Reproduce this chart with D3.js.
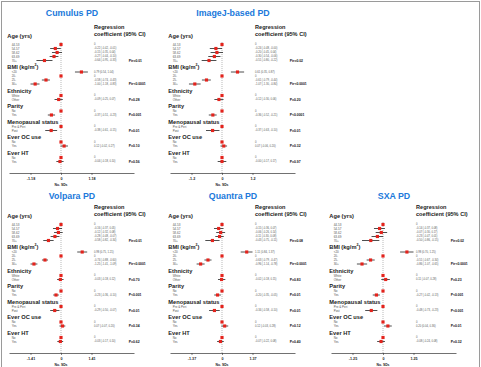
<!DOCTYPE html>
<html>
<head>
<meta charset="utf-8">
<script src="https://cdn.jsdelivr.net/npm/d3@7"></script>
<style>
  body { margin: 0; background: #fff; }
  text { font-family: "Liberation Sans", Arial, sans-serif; }
</style>
</head>
<body>
<script>
// groups and their categories (first category is the reference)
const groupNames = ["Age (yrs)", "BMI (kg/m2)", "Ethnicity", "Parity", "Menopausal status", "Ever OC use", "Ever HT"];
const categories = [
    ["44-53", "54-57", "58-62", "63-69", "70+"],
    ["<20", "20-", "25-", "30+"],
    ["White", "Other"],
    ["No", "Yes"],
    ["Pre & Peri", "Post"],
    ["No", "Yes"],
    ["No", "Yes"]
];

const panelNames = ["Cumulus PD", "ImageJ-based PD", "Volpara PD", "Quantra PD", "SXA PD"];
const tickLabels = ["1.18", "1.2", "1.41", "1.37", "1.25"];

// [estimate, lower, upper] per category, null CI = reference
const cumulusCI = [
    [0, null, null], [-0.22, -0.42, -0.01], [-0.15, -0.35, 0.04], [-0.27, -0.44, -0.10], [-0.64, -0.95, -0.33],
    [0.79, 0.54, 1.04], [0, null, null], [-0.58, -0.74, -0.43], [-1.00, -1.18, -0.83],
    [0, null, null], [-0.09, -0.25, 0.07],
    [0, null, null], [-0.37, -0.51, -0.23],
    [0, null, null], [-0.38, -0.61, -0.15],
    [0, null, null], [0.12, -0.02, 0.27],
    [0, null, null], [-0.04, -0.18, 0.10]
];
const imagejCI = [
    [0, null, null], [-0.24, -0.48, -0.00], [-0.20, -0.45, 0.04], [-0.30, -0.54, -0.06], [-0.51, -0.80, -0.22],
    [0.61, 0.35, 0.87], [0, null, null], [-0.61, -0.79, -0.44], [-1.07, -1.30, -0.84],
    [0, null, null], [-0.12, -0.30, 0.06],
    [0, null, null], [-0.36, -0.52, -0.21],
    [0, null, null], [-0.37, -0.63, -0.10],
    [0, null, null], [0.07, -0.06, 0.20],
    [0, null, null], [-0.00, -0.17, 0.17]
];
const volparaCI = [
    [0, null, null], [-0.16, -0.37, 0.05], [-0.12, -0.32, 0.08], [-0.28, -0.48, -0.07], [-0.58, -0.82, -0.34],
    [0.98, 0.75, 1.21], [0, null, null], [-0.74, -0.88, -0.60], [-1.25, -1.41, -1.09],
    [0, null, null], [-0.03, -0.18, 0.12],
    [0, null, null], [-0.23, -0.36, -0.10],
    [0, null, null], [-0.29, -0.50, -0.07],
    [0, null, null], [0.07, -0.07, 0.20],
    [0, null, null], [-0.03, -0.17, 0.10]
];
const quantraCI = [
    [0, null, null], [-0.15, -0.36, 0.07], [-0.06, -0.26, 0.14], [-0.11, -0.30, 0.08], [-0.43, -0.75, -0.11],
    [1.11, 0.84, 1.37], [0, null, null], [-0.63, -0.79, -0.47], [-0.96, -1.14, -0.78],
    [0, null, null], [-0.02, -0.18, 0.15],
    [0, null, null], [-0.20, -0.35, -0.05],
    [0, null, null], [-0.34, -0.58, -0.10],
    [0, null, null], [0.12, -0.03, 0.28],
    [0, null, null], [-0.07, -0.22, 0.08]
];
const sxaCI = [
    [0, null, null], [-0.14, -0.37, 0.08], [-0.07, -0.30, 0.17], [-0.23, -0.47, 0.01], [-0.50, -0.86, -0.15],
    [0.98, 0.70, 1.25], [0, null, null], [-0.51, -0.67, -0.34], [-0.86, -1.07, -0.65],
    [0, null, null], [0.11, -0.07, 0.28],
    [0, null, null], [-0.27, -0.42, -0.13],
    [0, null, null], [-0.48, -0.73, -0.23],
    [0, null, null], [0.20, 0.04, 0.36],
    [0, null, null], [-0.08, -0.24, 0.08]
];

const cumulusP = ["Ptr=0.01", "Ptr<0.0001", "P=0.28", "P=0.001", "P=0.01", "P=0.10", "P=0.56"];
const imagejP = ["Ptr=0.02", "Ptr<0.0001", "P=0.20", "P<0.0001", "P=0.01", "P=0.32", "P=0.97"];
const volparaP = ["Ptr=0.01", "Ptr<0.0001", "P=0.70", "P<0.001", "P=0.01", "P=0.34", "P=0.62"];
const quantraP = ["Ptr=0.08", "Ptr<0.0001", "P=0.83", "P=0.01", "P=0.01", "P=0.12", "P=0.40"];
const sxaP = ["Ptr=0.02", "Ptr<0.0001", "P=0.23", "P<0.001", "P<0.001", "P=0.01", "P=0.32"];

const allCI = [cumulusCI, imagejCI, volparaCI, quantraCI, sxaCI];
const allP = [cumulusP, imagejP, volparaP, quantraP, sxaP];

// layout
const W = 481, H = 367;
const panelPos = [[0, 0], [161, 0], [0, 180], [161, 180], [322, 180]];
const zeroX = 61, tickPx = 30.5, axisLeft = 9, axisRight = 134, axisY = 173;
const red = "#e3231c", blue = "#2079db";

// flatten rows with a slot index (extra gap before each new group)
const groupGap = 1.875;
const rows = [];
categories.forEach((cats, g) => cats.forEach((c, j) => {
    rows.push({g, j, label: c, slot: rows.length + g * groupGap});
}));
const maxSlot = d3.max(rows, d => d.slot);
const y = d3.scaleLinear().domain([0, maxSlot]).range([44.5, 44.5 + 4 * maxSlot]);

const fmt = v => (v < 0 || Object.is(v, -0) ? "-" : "") + Math.abs(v).toFixed(2);

const svg = d3.select("body").append("svg")
    .attr("width", W).attr("height", H);

svg.append("rect").attr("width", W).attr("height", H).attr("fill", "#fff");
svg.append("rect")
    .attr("x", 1.5).attr("y", 1.5).attr("width", W - 3).attr("height", H + 5)
    .attr("fill", "none").attr("stroke", "#9a9a9a").attr("stroke-width", 1);

panelNames.forEach((name, p) => {
    const t = +tickLabels[p];
    const ci = allCI[p];
    const pv = allP[p];
    const g = svg.append("g").attr("transform", `translate(${panelPos[p][0]},${panelPos[p][1]})`);

    const x = d3.scaleLinear()
        .domain([-(zeroX - axisLeft) / tickPx * t, (axisRight - zeroX) / tickPx * t])
        .range([axisLeft, axisRight]);

    // title
    g.append("text")
        .attr("x", x(0) + 11).attr("y", p < 2 ? 13 : 15.5)
        .attr("text-anchor", "middle").attr("dominant-baseline", "central")
        .attr("font-size", 8.8).attr("font-weight", "bold").attr("fill", blue)
        .text(name);

    // column header
    g.append("text")
        .attr("x", 94).attr("y", 26.7).attr("dominant-baseline", "central")
        .attr("font-size", 5.6).attr("font-weight", "bold").attr("fill", "#222")
        .text("Regression");
    g.append("text")
        .attr("x", 94).attr("y", 33.7).attr("dominant-baseline", "central")
        .attr("font-size", 5.6).attr("font-weight", "bold").attr("fill", "#222")
        .text("coefficient (95% CI)");

    // group headers
    groupNames.forEach((gn, gi) => {
        const first = rows.find(r => r.g === gi);
        const txt = g.append("text")
            .attr("x", 7.3).attr("y", y(first.slot) - (gi === 0 ? 8.5 : 4.8))
            .attr("dominant-baseline", "central")
            .attr("font-size", 5.7).attr("font-weight", "bold").attr("fill", "#222");
        if (gi === 1) {
            txt.append("tspan").text("BMI (kg/m");
            txt.append("tspan").attr("font-size", 3.6).attr("dy", -2).text("2");
            txt.append("tspan").attr("dy", 2).text(")");
        } else {
            txt.text(gn);
        }
        // p value at the last row of the group
        const last = rows.filter(r => r.g === gi).slice(-1)[0];
        g.append("text")
            .attr("x", 128.7).attr("y", y(last.slot))
            .attr("dominant-baseline", "central")
            .attr("font-size", 3.4).attr("font-weight", "bold").attr("fill", "#111")
            .text(pv[gi]);
    });

    // zero reference line
    g.append("line")
        .attr("x1", x(0)).attr("x2", x(0))
        .attr("y1", y(0) - 2.5).attr("y2", axisY)
        .attr("stroke", "#8a8a8a").attr("stroke-width", 0.6)
        .attr("stroke-dasharray", "1,1");

    // category labels, coefficient text
    rows.forEach((r, i) => {
        g.append("text")
            .attr("x", 11.7).attr("y", y(r.slot))
            .attr("dominant-baseline", "central")
            .attr("font-size", 3).attr("fill", "#555")
            .text(r.label);
        const [est, lo, hi] = ci[i];
        g.append("text")
            .attr("x", 94).attr("y", y(r.slot))
            .attr("dominant-baseline", "central")
            .attr("font-size", 2.7).attr("fill", "#555")
            .text(lo === null ? "0" : `${fmt(est)} (${fmt(lo)}, ${fmt(hi)})`);
    });

    // confidence intervals
    g.selectAll("line.ci")
        .data(rows.filter((r, i) => ci[i][1] !== null))
        .join("line")
        .attr("class", "ci")
        .attr("x1", r => x(ci[rows.indexOf(r)][1]))
        .attr("x2", r => x(ci[rows.indexOf(r)][2]))
        .attr("y1", r => y(r.slot)).attr("y2", r => y(r.slot))
        .attr("stroke", "#222").attr("stroke-width", 0.8);

    // point estimates
    g.selectAll("path.pt")
        .data(rows)
        .join("path")
        .attr("class", "pt")
        .attr("d", d3.symbol(d3.symbolSquare, 10))
        .attr("transform", (r, i) => `translate(${x(ci[i][0])},${y(r.slot)})`)
        .attr("fill", red);

    // axis
    const axis = d3.axisBottom(x)
        .tickValues([-t, 0, t])
        .tickFormat(d => d === 0 ? "0" : (d < 0 ? "-" : "") + tickLabels[p])
        .tickSize(2)
        .tickSizeOuter(0)
        .tickPadding(2);
    const ax = g.append("g").attr("transform", `translate(0,${axisY})`).call(axis);
    ax.select(".domain").attr("stroke", "#333").attr("stroke-width", 0.7);
    ax.selectAll(".tick line").attr("stroke", "#333").attr("stroke-width", 0.6);
    ax.selectAll(".tick text")
        .attr("font-size", 3.7).attr("font-weight", "bold").attr("fill", "#222")
        .attr("font-family", "Liberation Sans, Arial, sans-serif");

    g.append("text")
        .attr("x", x(0)).attr("y", axisY + 12)
        .attr("text-anchor", "middle").attr("dominant-baseline", "central")
        .attr("font-size", 3.4).attr("font-weight", "bold").attr("fill", "#222")
        .text("No. SDs");
});
</script>
</body>
</html>
